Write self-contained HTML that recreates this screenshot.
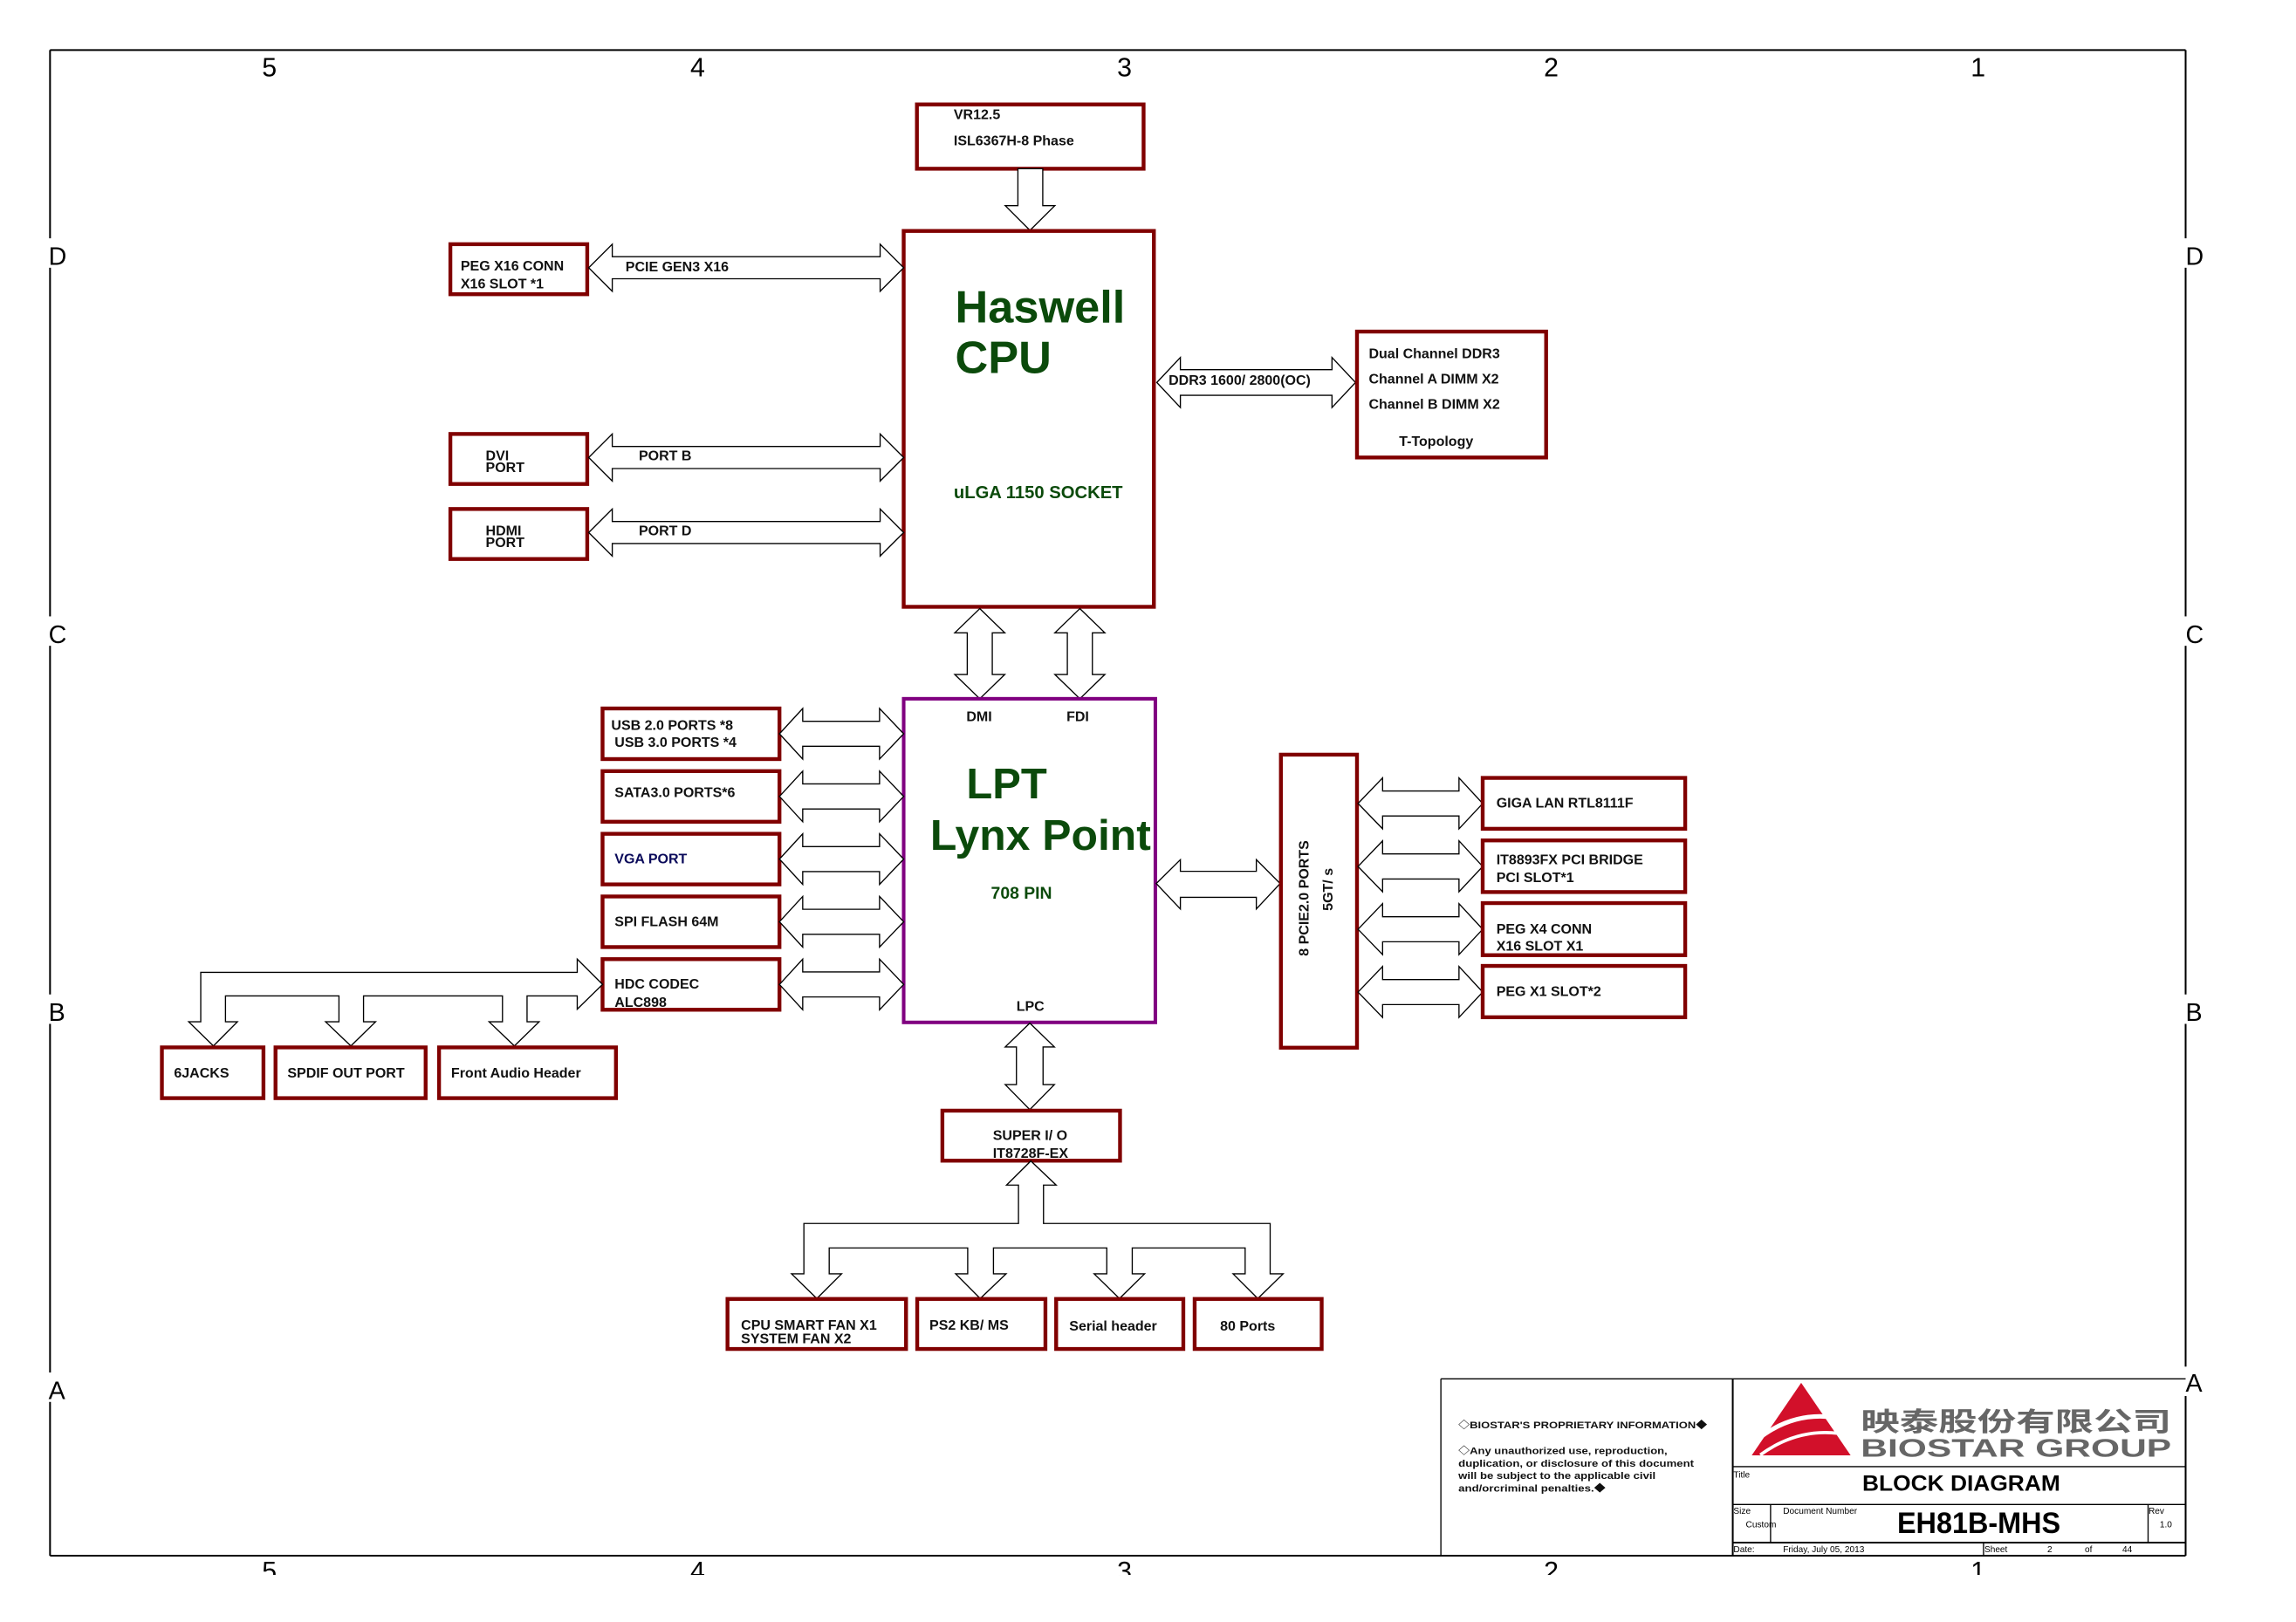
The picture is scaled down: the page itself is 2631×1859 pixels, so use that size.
<!DOCTYPE html>
<html><head><meta charset="utf-8"><style>
html,body{margin:0;padding:0;background:#fff;}
svg{display:block;}
text{font-family:"Liberation Sans","Noto Sans CJK SC",sans-serif;}
.b{fill:none;stroke:#800000;stroke-width:2.6;}
.a{fill:#fff;stroke:#000;stroke-width:0.8;}
.t{font-size:9.5px;font-weight:bold;fill:#111;}
.g{fill:#0b4a0b;font-weight:bold;}
</style></head><body>
<svg width="2631" height="1859" viewBox="0 0 1560 1102.6" preserveAspectRatio="none" xmlns="http://www.w3.org/2000/svg">
<rect width="1560" height="1102.6" fill="#fff"/>
<!-- frame -->
<g stroke="#000" stroke-width="1.2" fill="none">
<line x1="34" y1="34" x2="1485" y2="34"/>
<line x1="34" y1="34" x2="34" y2="1057.5"/>
<line x1="1485" y1="34" x2="1485" y2="1057.5"/>
<line x1="34" y1="1057.5" x2="1485" y2="1057.5"/>
</g>
<g font-size="18" fill="#000">
<text x="178" y="52">5</text><text x="469" y="52">4</text><text x="759" y="52">3</text><text x="1049" y="52">2</text><text x="1339" y="52">1</text>
<text x="178" y="1074">5</text><text x="469" y="1074">4</text><text x="759" y="1074">3</text><text x="1049" y="1074">2</text><text x="1339" y="1074">1</text>
</g>
<rect x="0" y="1070.6" width="1560" height="40" fill="#fff"/>
<g fill="#fff"><rect x="30" y="162" width="10" height="20"/><rect x="30" y="419" width="10" height="20"/><rect x="30" y="676" width="10" height="20"/><rect x="30" y="933" width="10" height="20"/>
<rect x="1480" y="162" width="10" height="20"/><rect x="1480" y="419" width="10" height="20"/><rect x="1480" y="676" width="10" height="20"/><rect x="1480" y="929" width="10" height="20"/></g>
<g font-size="17" fill="#000">
<text x="33" y="180">D</text><text x="33" y="437">C</text><text x="33" y="694">B</text><text x="33" y="951">A</text>
<text x="1485" y="180">D</text><text x="1485" y="437">C</text><text x="1485" y="694">B</text><text x="1485" y="946">A</text>
</g>

<!-- VR -->
<rect class="b" x="623" y="71" width="154" height="43.7"/>
<text class="t" x="648" y="81">VR12.5</text>
<text class="t" x="648" y="98.7">ISL6367H-8 Phase</text>
<polygon class="a" points="691.6,114.7 708.5,114.7 708.5,139.8 716.7,139.8 699.8,156.6 683,139.8 691.6,139.8"/>

<!-- CPU -->
<rect class="b" x="614" y="157" width="170" height="255.5"/>
<text class="g" x="649" y="219.3" font-size="31">Haswell</text>
<text class="g" x="649" y="253.7" font-size="31">CPU</text>
<text class="g" x="648" y="338.7" font-size="12">uLGA 1150 SOCKET</text>

<!-- left CPU boxes -->
<rect class="b" x="306" y="166" width="93" height="34"/>
<text class="t" x="313" y="184">PEG X16 CONN</text><text class="t" x="313" y="196">X16 SLOT *1</text>
<polygon class="a" points="400,182 416,166 416,174.5 598,174.5 598,166 614,182 598,198 598,189.5 416,189.5 416,198"/>
<text class="t" x="425" y="184.5">PCIE GEN3 X16</text>
<rect class="b" x="306" y="295" width="93" height="34"/>
<text class="t" x="330" y="313">DVI</text><text class="t" x="330" y="321">PORT</text>
<polygon class="a" points="400,311 416,295 416,303.5 598,303.5 598,295 614,311 598,327 598,318.5 416,318.5 416,327"/>
<text class="t" x="434" y="313">PORT B</text>
<rect class="b" x="306" y="346" width="93" height="34"/>
<text class="t" x="330" y="364">HDMI</text><text class="t" x="330" y="372">PORT</text>
<polygon class="a" points="400,362 416,346 416,354.5 598,354.5 598,346 614,362 598,378 598,369.5 416,369.5 416,378"/>
<text class="t" x="434" y="364">PORT D</text>

<!-- DDR -->
<polygon class="a" points="786,260 802,243 802,251.3 905,251.3 905,243 921,260 905,277 905,268.7 802,268.7 802,277"/>
<text class="t" x="794" y="261.5" font-size="9.5">DDR3 1600/ 2800(OC)</text>
<rect class="b" x="922" y="225.4" width="128.5" height="85.6"/>
<text class="t" x="930" y="243.4">Dual Channel DDR3</text>
<text class="t" x="930" y="260.6">Channel A DIMM X2</text>
<text class="t" x="930" y="277.9">Channel B DIMM X2</text>
<text class="t" x="950.6" y="303">T-Topology</text>

<!-- DMI FDI -->
<polygon class="a" points="665.7,413.7 682.7,430.2 674.2,430.2 674.2,458.5 682.7,458.5 665.7,475 648.7,458.5 657.2,458.5 657.2,430.2 648.7,430.2"/>
<polygon class="a" points="733.7,413.7 750.7,430.2 742.2,430.2 742.2,458.5 750.7,458.5 733.7,475 716.7,458.5 725.2,458.5 725.2,430.2 716.7,430.2"/>

<!-- LPT -->
<rect x="614" y="475" width="171" height="220" fill="none" stroke="#800080" stroke-width="2.4"/>
<text class="t" x="656.6" y="490.3">DMI</text>
<text class="t" x="724.6" y="490.3">FDI</text>
<text class="g" x="656.6" y="542.7" font-size="29">LPT</text>
<text class="g" x="632" y="577.7" font-size="29" textLength="150" lengthAdjust="spacingAndGlyphs">Lynx Point</text>
<text class="g" x="673.3" y="611" font-size="11.5">708 PIN</text>
<text class="t" x="690.6" y="687">LPC</text>

<!-- left LPT boxes -->
<g>
<rect class="b" x="409.4" y="481.6" width="120.2" height="34.4"/>
<text class="t" x="415.3" y="496.2">USB 2.0 PORTS *8</text><text class="t" x="417.6" y="507.7">USB 3.0 PORTS *4</text>
<polygon class="a" points="529.6,498.8 545.4,481.6 545.4,490.3 597.6,490.3 597.6,481.6 614,498.8 597.6,516 597.6,507.3 545.4,507.3 545.4,516"/>
<rect class="b" x="409.4" y="524.2" width="120.2" height="34.4"/>
<text class="t" x="417.6" y="541.7">SATA3.0 PORTS*6</text>
<polygon class="a" points="529.6,541.4 545.4,524.2 545.4,532.9 597.6,532.9 597.6,524.2 614,541.4 597.6,558.6 597.6,549.9 545.4,549.9 545.4,558.6"/>
<rect class="b" x="409.4" y="566.8" width="120.2" height="34.4"/>
<text class="t" x="417.6" y="587" style="fill:#0a0a5a">VGA PORT</text>
<polygon class="a" points="529.6,584 545.4,566.8 545.4,575.5 597.6,575.5 597.6,566.8 614,584 597.6,601.2 597.6,592.5 545.4,592.5 545.4,601.2"/>
<rect class="b" x="409.4" y="609.4" width="120.2" height="34.4"/>
<text class="t" x="417.6" y="629.5">SPI FLASH 64M</text>
<polygon class="a" points="529.6,626.6 545.4,609.4 545.4,618.1 597.6,618.1 597.6,609.4 614,626.6 597.6,643.8 597.6,635.1 545.4,635.1 545.4,643.8"/>
<rect class="b" x="409.4" y="652" width="120.2" height="34.4"/>
<text class="t" x="417.6" y="672">HDC CODEC</text><text class="t" x="417.6" y="684.5">ALC898</text>
<polygon class="a" points="529.6,669.2 545.4,652 545.4,660.7 597.6,660.7 597.6,652 614,669.2 597.6,686.4 597.6,677.7 545.4,677.7 545.4,686.4"/>
</g>

<!-- audio fan-out -->
<polygon class="a" points="409.4,669.2 392.2,686 392.2,677 358.1,677 358.1,694.6 366.3,694.6 349.5,711 332.3,694.6 341.4,694.6 341.4,677 247,677 247,694.6 255.2,694.6 238.4,711 221.2,694.6 230.3,694.6 230.3,677 153.2,677 153.2,694.6 161.3,694.6 145,711 128.2,694.6 136.4,694.6 136.4,661 392.2,661 392.2,652"/>
<rect class="b" x="110" y="712" width="69" height="34.5"/>
<text class="t" x="118.2" y="732.5">6JACKS</text>
<rect class="b" x="187.2" y="712" width="102" height="34.5"/>
<text class="t" x="195.3" y="732.5">SPDIF OUT PORT</text>
<rect class="b" x="298.3" y="712" width="120.2" height="34.5"/>
<text class="t" x="306.5" y="732.5">Front Audio Header</text>

<!-- LPC / super IO -->
<polygon class="a" points="699.7,695.5 716.4,711.7 708.7,711.7 708.7,737.3 716.4,737.3 699.7,754.3 683,737.3 690.6,737.3 690.6,711.7 683,711.7"/>
<rect class="b" x="640.3" y="755" width="120.7" height="34"/>
<text class="t" x="674.6" y="775">SUPER I/ O</text>
<text class="t" x="674.6" y="787">IT8728F-EX</text>
<polygon class="a" points="700.4,789.2 717.6,805.6 709,805.6 709,831.7 863,831.7 863,865.9 871.8,865.9 854.6,882.7 837.8,865.9 846,865.9 846,848.3 769.3,848.3 769.3,865.9 777.7,865.9 760.6,882.7 743.4,865.9 752,865.9 752,848.3 675,848.3 675,865.9 683.6,865.9 666,882.7 649.3,865.9 657.5,865.9 657.5,848.3 563.4,848.3 563.4,865.9 571.8,865.9 555,882.7 537.8,865.9 546.2,865.9 546.2,831.7 692,831.7 692,805.6 683.9,805.6"/>
<rect class="b" x="494.3" y="883" width="121.3" height="34"/>
<text class="t" x="503.5" y="904">CPU SMART FAN X1</text><text class="t" x="503.5" y="913">SYSTEM FAN X2</text>
<rect class="b" x="623.2" y="883" width="87.1" height="34"/>
<text class="t" x="631.5" y="904">PS2 KB/ MS</text>
<rect class="b" x="717.6" y="883" width="86.4" height="34"/>
<text class="t" x="726.5" y="904.5">Serial header</text>
<rect class="b" x="811.7" y="883" width="86.3" height="34"/>
<text class="t" x="829" y="904.5">80 Ports</text>

<!-- PCIe -->
<polygon class="a" points="785.6,600.6 802,584.4 802,592.3 853.6,592.3 853.6,584.4 869.8,600.6 853.6,617.9 853.6,610 802,610 802,617.9"/>
<rect class="b" x="870.3" y="513" width="51.7" height="199.2"/>
<text class="t" font-size="10.5" transform="translate(889,610.6) rotate(-90)" text-anchor="middle">8 PCIE2.0 PORTS</text>
<text class="t" font-size="10.5" transform="translate(905.5,604.6) rotate(-90)" text-anchor="middle">5GT/ s</text>
<g>
<polygon class="a" points="922.7,546.2 939.4,528.8 939.4,537.7 991.3,537.7 991.3,528.8 1007.4,546.2 991.3,563.4 991.3,554.7 939.4,554.7 939.4,563.4"/>
<polygon class="a" points="922.7,589 939.4,571.6 939.4,580.5 991.3,580.5 991.3,571.6 1007.4,589 991.3,606.2 991.3,597.5 939.4,597.5 939.4,606.2"/>
<polygon class="a" points="922.7,631.7 939.4,614.3 939.4,623.2 991.3,623.2 991.3,614.3 1007.4,631.7 991.3,648.9 991.3,640.2 939.4,640.2 939.4,648.9"/>
<polygon class="a" points="922.7,674.4 939.4,657 939.4,665.9 991.3,665.9 991.3,657 1007.4,674.4 991.3,691.6 991.3,682.9 939.4,682.9 939.4,691.6"/>
</g>
<rect class="b" x="1007.4" y="528.8" width="137.6" height="34.6"/>
<text class="t" x="1016.7" y="549">GIGA LAN RTL8111F</text>
<rect class="b" x="1007.4" y="571.3" width="137.6" height="35.1"/>
<text class="t" x="1016.7" y="587.5">IT8893FX PCI BRIDGE</text><text class="t" x="1016.7" y="599.5">PCI SLOT*1</text>
<rect class="b" x="1007.4" y="613.9" width="137.6" height="35.4"/>
<text class="t" x="1016.7" y="634.5">PEG X4 CONN</text><text class="t" x="1016.7" y="646.3">X16 SLOT X1</text>
<rect class="b" x="1007.4" y="656.6" width="137.6" height="34.9"/>
<text class="t" x="1016.7" y="677">PEG X1 SLOT*2</text>

<!-- title block -->
<g stroke="#000" stroke-width="0.8" fill="none">
<line x1="979" y1="937.3" x2="1485" y2="937.3"/>
<line x1="979" y1="937.3" x2="979" y2="1057.5"/>
<line x1="1177.3" y1="937.3" x2="1177.3" y2="1057.5" stroke-width="1.2"/>
<line x1="1177.3" y1="997" x2="1485" y2="997"/>
<line x1="1177.3" y1="1022.7" x2="1485" y2="1022.7"/>
<line x1="1177.3" y1="1048.6" x2="1485" y2="1048.6" stroke-width="1.2"/>
<line x1="1203" y1="1022.7" x2="1203" y2="1048.6"/>
<line x1="1459.5" y1="1022.7" x2="1459.5" y2="1048.6"/>
<line x1="1347.7" y1="1048.6" x2="1347.7" y2="1057.5"/>
</g>
<g font-size="6.8" font-weight="bold" fill="#111">
<text x="990.9" y="970.8" textLength="169" lengthAdjust="spacingAndGlyphs">◇BIOSTAR'S PROPRIETARY INFORMATION◆</text>
<text x="990.9" y="988.5" textLength="142" lengthAdjust="spacingAndGlyphs">◇Any unauthorized use, reproduction,</text>
<text x="990.9" y="996.9" textLength="160" lengthAdjust="spacingAndGlyphs">duplication, or disclosure of this document</text>
<text x="990.9" y="1005.3" textLength="134" lengthAdjust="spacingAndGlyphs">will be subject to the applicable civil</text>
<text x="990.9" y="1013.8" textLength="100" lengthAdjust="spacingAndGlyphs">and/orcriminal penalties.◆</text>
</g>
<!-- logo -->
<polygon points="1223.8,940 1257.4,989.3 1190.2,989.3" fill="#d2102a"/>
<path d="M1190,982 Q1220,955 1258,966" stroke="#fff" stroke-width="3" fill="none"/>
<path d="M1196,989 Q1225,968 1258,976" stroke="#fff" stroke-width="2.2" fill="none"/>
<text x="1264.3" y="972.7" font-size="18" font-weight="bold" fill="#666" textLength="211" lengthAdjust="spacingAndGlyphs">映泰股份有限公司</text>
<text x="1264.3" y="990.1" font-size="17" font-weight="bold" fill="#666" textLength="211" lengthAdjust="spacingAndGlyphs">BIOSTAR GROUP</text>
<g fill="#000">
<text x="1177.8" y="1004.3" font-size="6">Title</text>
<text x="1265.3" y="1013.2" font-size="15" font-weight="bold" textLength="134.5" lengthAdjust="spacingAndGlyphs">BLOCK DIAGRAM</text>
<text x="1177.8" y="1029" font-size="6">Size</text>
<text x="1211.5" y="1029" font-size="6">Document Number</text>
<text x="1186.2" y="1038.3" font-size="6">Custom</text>
<text x="1289" y="1042" font-size="20.5" font-weight="bold" textLength="111" lengthAdjust="spacingAndGlyphs">EH81B-MHS</text>
<text x="1459.8" y="1029" font-size="6">Rev</text>
<text x="1467.4" y="1038.3" font-size="6">1.0</text>
<text x="1177.8" y="1055.3" font-size="6">Date:</text>
<text x="1211.5" y="1055.3" font-size="6">Friday, July 05, 2013</text>
<text x="1348.3" y="1055.3" font-size="6">Sheet</text>
<text x="1391" y="1055.3" font-size="6">2</text>
<text x="1416.5" y="1055.3" font-size="6">of</text>
<text x="1442" y="1055.3" font-size="6">44</text>
</g>
</svg>
</body></html>
